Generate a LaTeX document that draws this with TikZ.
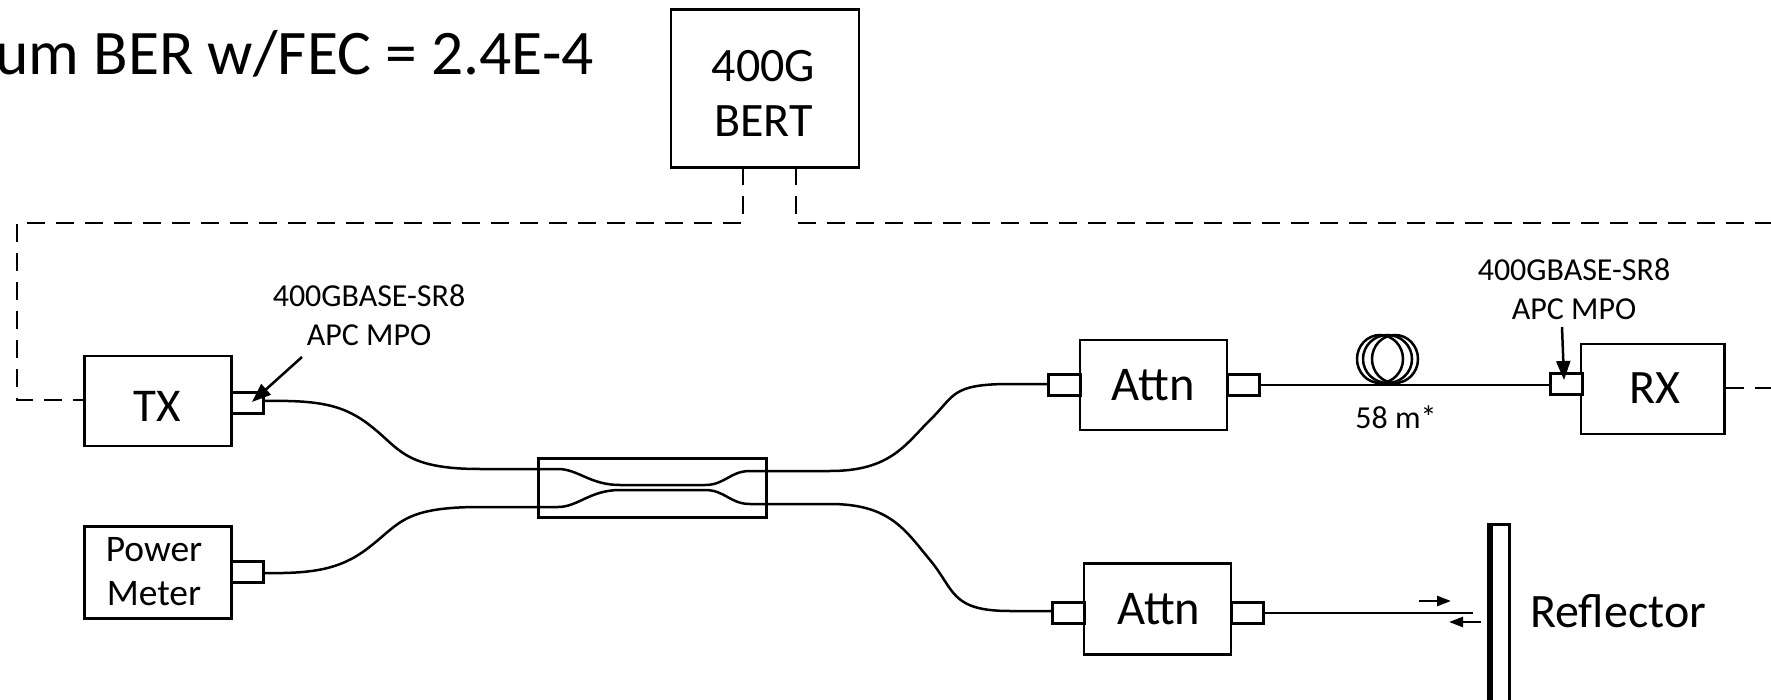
\documentclass[tikz,border=0pt]{standalone}
\usepackage{fontspec}
\setmainfont{Carlito}
\usetikzlibrary{arrows.meta,shapes.geometric}
\newcommand{\fs}[2]{\fontsize{#1}{#2}\selectfont}
\tikzset{
  x=1pt,y=-1pt,
  box/.style={draw,rectangle,inner sep=0,anchor=north west,fill=white},
  conn/.style={draw,rectangle,inner sep=0,anchor=north west,fill=white,minimum width=32pt,minimum height=21pt},
  fiber/.style={draw,line width=2.5pt},
  ctrl/.style={draw,line width=2.7pt,dash pattern=on 18pt off 11pt},
  pointer/.style={draw,line width=2.5pt,-{Triangle[length=19pt,width=14pt]}},
  small/.style={-{Triangle[length=14pt,width=10pt]},line width=2.5pt},
  txt/.style={inner sep=0,align=center},
  turn/.style={draw,ellipse,inner sep=0,minimum height=48pt}
}
\begin{document}
\begin{tikzpicture}[line width=2.5pt]
\useasboundingbox (0,0) rectangle (1771,700);
\clip (0,0) rectangle (1771,700);
% title
\node[txt,anchor=base east,font=\fs{63.5}{70}] (title) at (595,75) {um BER w/FEC = 2.4E-4};
% BERT
\node[box,minimum width=188pt,minimum height=158pt] (bert) at (669.5,8.5) {};
\node[txt,font=\fs{48}{55}] (bertt) at (763.5,93) {400G\\BERT};
\coordinate (b1) at (743,167);
\coordinate (b2) at (796,167);
\coordinate (lc1) at (743,223);
\coordinate (lc2) at (17,223);
\coordinate (lc3) at (17,400);
\coordinate (rc1) at (796,223);
\coordinate (rc2) at (1771,223);
\coordinate (rc3) at (1771,388);
% boxes
\node[box,minimum width=147pt,minimum height=90pt] (tx) at (83,354.5) {};
\node[txt,font=\fs{47}{50}] (txt) at (157,406) {TX};
\node[box,minimum width=147pt,minimum height=92pt] (pm) at (83,525) {};
\node[txt,font=\fs{37.5}{44}] (pmt) at (154,572) {Power\\Meter};
\node[box,minimum width=143.5pt,minimum height=90pt] (rx) at (1579.5,342.5) {};
\node[txt,font=\fs{48}{50}] (rxt) at (1654.5,388) {RX};
\node[box,minimum width=147pt,minimum height=90pt] (a1) at (1078.5,338.5) {\fs{48.5}{50}Attn};
\node[box,minimum width=147pt,minimum height=91pt] (a2) at (1082.5,562) {\hspace*{3pt}\fs{48.5}{50}Attn};
% connectors
\node[conn] (txc) at (230,391) {};
\node[conn] (pmc) at (230,560) {};
\node[conn] (a1l) at (1047,373) {};
\node[conn] (a1r) at (1226,373) {};
\node[conn] (a2l) at (1051,601) {};
\node[conn] (a2r) at (1230,601) {};
\node[conn] (rxc) at (1549,372) {};
% dashed lines
\draw[ctrl] (b1) -- (lc1) -- (lc2) -- (lc3) -- (tx.west |- lc3);
\draw[ctrl] (b2) -- (rc1) -- (rc2);
\draw[ctrl] (rx.east |- rc3) -- (rc3);
% coupler
\node[draw,rectangle,inner sep=0,anchor=north west,minimum width=228pt,minimum height=59pt] (cpl) at (537,457) {};
\coordinate (cl1) at (537,469);
\coordinate (cl2) at (537,507);
\coordinate (cr1) at (765,471);
\coordinate (cr2) at (765,504);
\draw[fiber] (cl1) -- (558,469) .. controls (578,469) and (590,485) .. (620,485) -- (705,485) .. controls (725,485) and (730,471) .. (750,471) -- (cr1);
\draw[fiber] (cl2) -- (558,507) .. controls (578,507) and (590,490) .. (620,490) -- (705,490) .. controls (725,490) and (730,504) .. (750,504) -- (cr2);
% fibres
\draw[fiber] (txc.east |- 0,401) .. controls (320,400) and (345,405) .. (372,427) .. controls (400,449) and (405,469) .. (480,469) -- (cl1);
\draw[fiber] (pmc.east |- 0,573) .. controls (320,574) and (345,567) .. (372,545) .. controls (400,523) and (405,507) .. (480,507) -- (cl2);
\draw[fiber] (cr1) -- (830,471) .. controls (890,471) and (905,445) .. (930,420) .. controls (955,396) and (950,384) .. (1010,384) -- (a1l.west |- 0,384);
\draw[fiber] (cr2) -- (830,504) .. controls (890,504) and (905,530) .. (930,560) .. controls (955,590) and (950,611) .. (1010,611) -- (a2l.west |- 0,611);
\draw[fiber] (a1r.east) -- (a1r.east -| rxc.west);
\coordinate (fend) at (1473,611);
\draw[fiber] (a2r.east) -- (a2r.east -| fend);
% coil
\node[turn,minimum width=46pt] (k1) at (1380,359) {};
\node[turn,minimum width=49pt] (k2) at (1387.5,359) {};
\node[turn,minimum width=46pt] (k3) at (1395,359) {};
\node[txt,font=\fs{32}{36}] (len) at (1396,417) {58 m*};
% labels and pointers
\node[txt,font=\fs{32}{38.5}] (ltx) at (369,315) {400GBASE-SR8\\APC MPO};
\node[txt,font=\fs{32}{38.5}] (lrx) at (1574,289) {400GBASE-SR8\\APC MPO};
\coordinate (p1s) at (302,357);
\coordinate (p1e) at (252,402);
\coordinate (p2s) at (1562,327);
\coordinate (p2e) at (1564,380);
\draw[pointer] (p1s) -- (p1e);
\draw[pointer] (p2s) -- (p2e);
% reflector
\node[box,minimum width=20.5pt,minimum height=190pt] (refl) at (1487.5,523) {};
\fill (1487,523) rectangle (1493,713);
\node[txt,anchor=west,font=\fs{48}{50}] (rt) at (1529,611) {Reflector};
\coordinate (u1) at (1419,601);
\coordinate (u2) at (1451,601);
\coordinate (d1) at (1481,622);
\coordinate (d2) at (1449,622);
\draw[small] (u1) -- (u2);
\draw[small] (d1) -- (d2);
\end{tikzpicture}
\end{document}
